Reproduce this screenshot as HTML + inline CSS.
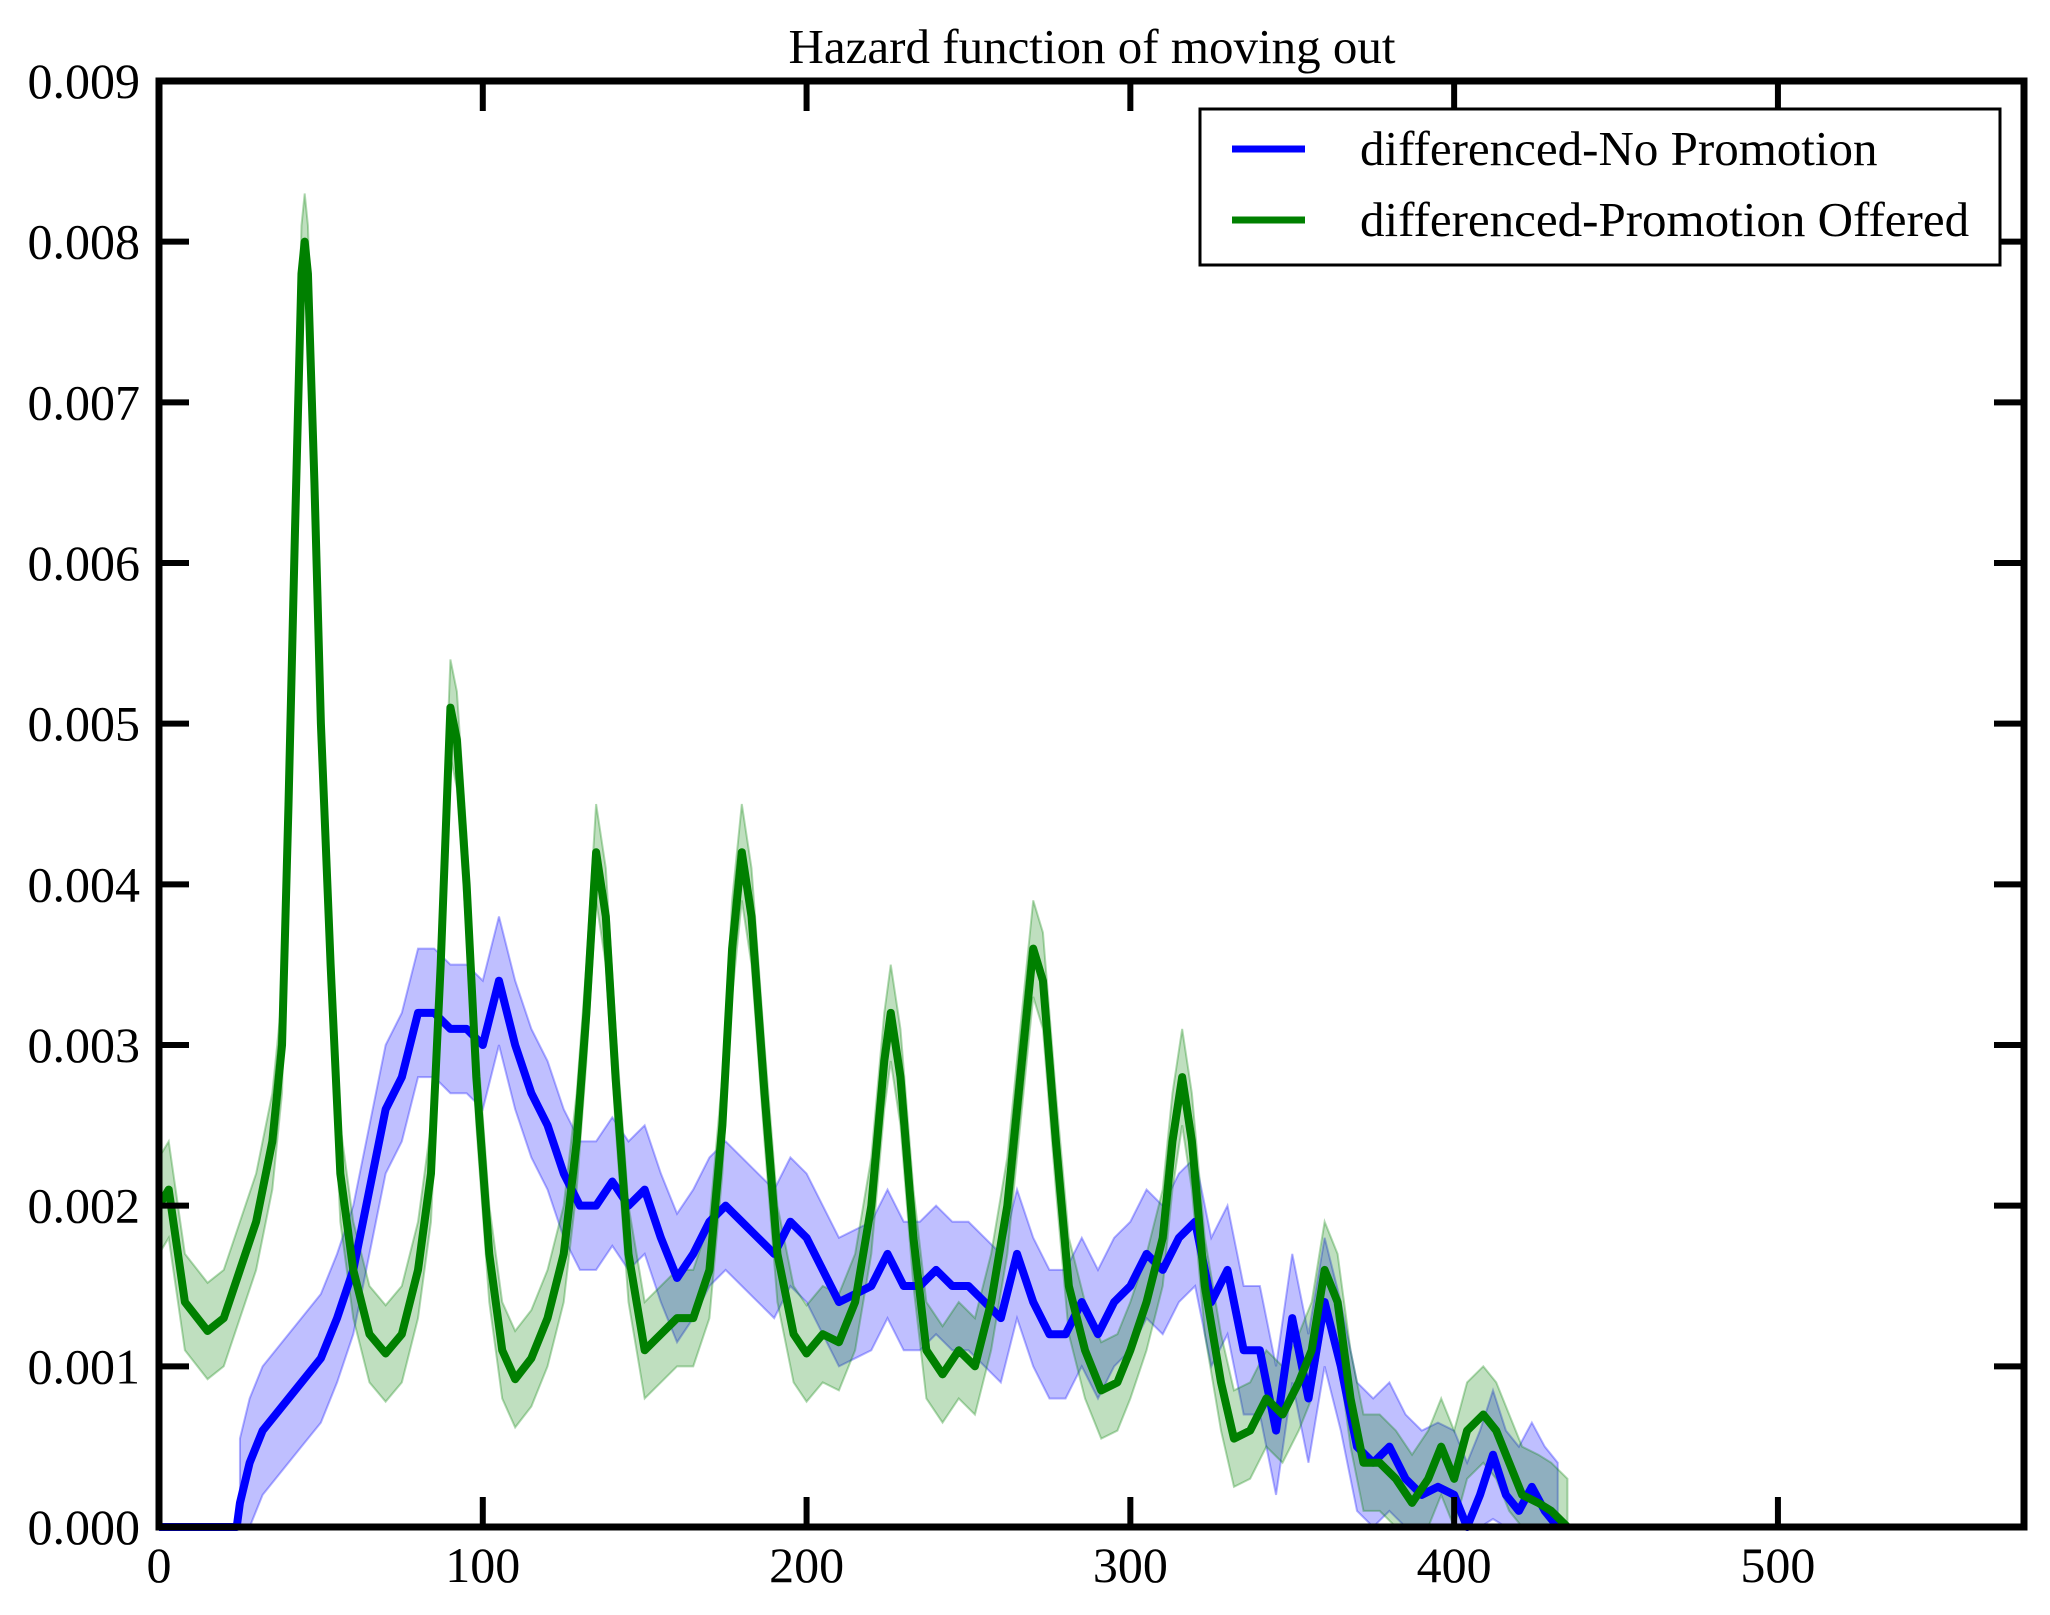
<!DOCTYPE html>
<html><head><meta charset="utf-8"><style>
html,body{margin:0;padding:0;background:#fff;}
svg{display:block;font-family:"Liberation Serif",serif;}
</style></head><body>
<svg id="chart" width="2050" height="1615" viewBox="0 0 2050 1615" xmlns="http://www.w3.org/2000/svg">
<rect width="2050" height="1615" fill="#fff"/>
<text x="1092" y="63" font-size="49" text-anchor="middle">Hazard function of moving out</text>
<g id="bands"></g><g id="lines"></g><g id="axes"></g>
<g>
<rect x="1200" y="109" width="800" height="156" fill="#fff" stroke="#000" stroke-width="3"/>
<line x1="1232" y1="149" x2="1305" y2="149" stroke="#0000ff" stroke-width="7"/>
<text x="1360" y="165" font-size="49">differenced-No Promotion</text>
<line x1="1232" y1="220" x2="1305" y2="220" stroke="#008000" stroke-width="7"/>
<text x="1360" y="236" font-size="49">differenced-Promotion Offered</text>
</g>
</svg>
<script>
const xTicks=[0,100,200,300,400,500];
const yTicks=[0,0.001,0.002,0.003,0.004,0.005,0.006,0.007,0.008,0.009];
const yTickLabels=["0.000","0.001","0.002","0.003","0.004","0.005","0.006","0.007","0.008","0.009"];
const greenX=[0,3,8,15,20,25,30,35,38,40,42,44,45,46,48,50,53,56,60,65,70,75,80,84,87,90,92,95,98,102,106,110,115,120,125,129,132,135,138,141,145,150,155,160,165,170,174,177,180,183,187,191,196,200,205,210,215,220,224,226,229,233,237,242,247,252,257,262,266,270,273,277,281,286,291,296,300,305,310,313,316,319,323,328,332,337,342,347,352,356,360,364,368,372,377,382,387,392,396,400,404,409,413,417,421,426,430,435];
const greenY=[0.0020,0.0021,0.0014,0.00122,0.0013,0.0016,0.0019,0.0024,0.0030,0.0045,0.0062,0.0078,0.0080,0.0078,0.0065,0.0050,0.0035,0.0022,0.0016,0.0012,0.00108,0.0012,0.0016,0.0022,0.0035,0.0051,0.0049,0.0040,0.0028,0.0017,0.0011,0.00092,0.00105,0.0013,0.0017,0.0024,0.0032,0.0042,0.0038,0.0028,0.0017,0.0011,0.0012,0.0013,0.0013,0.0016,0.0025,0.0036,0.0042,0.0038,0.0027,0.0017,0.0012,0.00108,0.0012,0.00115,0.0014,0.0020,0.0029,0.0032,0.0028,0.0018,0.0011,0.00095,0.0011,0.0010,0.0014,0.0020,0.0028,0.0036,0.0034,0.0024,0.0015,0.0011,0.00085,0.0009,0.0011,0.0014,0.0018,0.0024,0.0028,0.0024,0.0015,0.0009,0.00055,0.0006,0.0008,0.0007,0.0009,0.0011,0.0016,0.0014,0.0008,0.0004,0.0004,0.0003,0.00015,0.0003,0.0005,0.0003,0.0006,0.0007,0.0006,0.0004,0.0002,0.00015,0.0001,0];
const blueX=[0,24,25,28,32,38,44,50,55,60,65,70,75,80,85,90,95,100,105,110,115,120,125,130,135,140,145,150,155,160,165,170,175,180,185,190,195,200,205,210,215,220,225,230,235,240,245,250,255,260,265,270,275,280,285,290,295,300,305,310,315,320,325,330,335,340,345,350,355,360,365,370,375,380,385,390,395,400,404,408,412,416,420,424,428,432];
const blueY=[0,0,0.00015,0.0004,0.0006,0.00075,0.0009,0.00105,0.0013,0.0016,0.0021,0.0026,0.0028,0.0032,0.0032,0.0031,0.0031,0.0030,0.0034,0.0030,0.0027,0.0025,0.0022,0.0020,0.0020,0.00215,0.0020,0.0021,0.0018,0.00155,0.0017,0.0019,0.0020,0.0019,0.0018,0.0017,0.0019,0.0018,0.0016,0.0014,0.00145,0.0015,0.0017,0.0015,0.0015,0.0016,0.0015,0.0015,0.0014,0.0013,0.0017,0.0014,0.0012,0.0012,0.0014,0.0012,0.0014,0.0015,0.0017,0.0016,0.0018,0.0019,0.0014,0.0016,0.0011,0.0011,0.0006,0.0013,0.0008,0.0014,0.0010,0.0005,0.0004,0.0005,0.0003,0.0002,0.00025,0.0002,0,0.0002,0.00045,0.0002,0.0001,0.00025,0.0001,0];
const greenCI=0.0003;
const blueCI=0.0004;
const L=159,R=2024,T=81,B=1527,XMAX=576,YMAX=0.009;
const sx=v=>L+(R-L)*v/XMAX, sy=v=>B-(B-T)*v/YMAX;
const NS="http://www.w3.org/2000/svg";
function mk(tag,attrs,parent){const e=document.createElementNS(NS,tag);for(const k in attrs)e.setAttribute(k,attrs[k]);parent.appendChild(e);return e;}
const bands=document.getElementById('bands'),lines=document.getElementById('lines'),axes=document.getElementById('axes');
function series(xs,ys,ci,color,name,startIdx){
  let up=[],lo=[];
  for(let i=startIdx;i<xs.length;i++){up.push(sx(xs[i])+','+sy(ys[i]+ci));lo.push(sx(xs[i])+','+sy(Math.max(0,ys[i]-ci)));}
  const b=mk('polygon',{points:up.concat(lo.reverse()).join(' '),fill:color,'fill-opacity':0.25,stroke:color,'stroke-opacity':0.3,'stroke-width':2},bands);
  
  
  const pts=xs.map((x,i)=>sx(x)+','+sy(ys[i])).join(' ');
  const p=mk('polyline',{points:pts,fill:'none',stroke:color,'stroke-width':8,'stroke-linejoin':'round'},lines);
  
  
}
series(blueX,blueY,blueCI,'#0000ff','no-promotion',2);
series(greenX,greenY,greenCI,'#008000','promotion-offered',0);
const frame=mk('rect',{x:L,y:T,width:R-L,height:B-T,fill:'none',stroke:'#000','stroke-width':7},axes);


xTicks.forEach(v=>{
  const x=sx(v);
  mk('line',{x1:x,y1:B,x2:x,y2:B-30,stroke:'#000','stroke-width':6},axes);
  mk('line',{x1:x,y1:T,x2:x,y2:T+30,stroke:'#000','stroke-width':6},axes);
  const t=mk('text',{x:x,y:B+55,'font-size':50,'text-anchor':'middle'},axes);
  t.textContent=v;
  
  
});
yTicks.forEach((v,i)=>{
  const y=sy(v);
  mk('line',{x1:L,y1:y,x2:L+30,y2:y,stroke:'#000','stroke-width':6},axes);
  mk('line',{x1:R,y1:y,x2:R-30,y2:y,stroke:'#000','stroke-width':6},axes);
  const t=mk('text',{x:L-19,y:y+17,'font-size':50,'text-anchor':'end'},axes);
  t.textContent=yTickLabels[i];
  
  
});
</script>
</body></html>
